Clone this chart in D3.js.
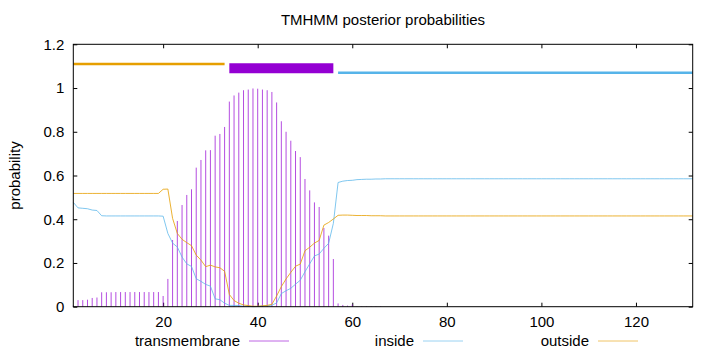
<!DOCTYPE html>
<html>

<head>
    <meta charset="UTF-8">
    <title>TMHMM posterior probabilities</title>
    <script src="https://d3js.org/d3.v7.min.js"></script>
    <style>
        body {
            margin: 0;
            background: #fff;
        }

        text {
            font-family: "Liberation Sans", Arial, sans-serif;
            font-size: 15px;
            fill: #000;
        }
    </style>
</head>

<body>
    <script>
        // residue numbers 1..132
        var residues = d3.range(1, 133);

        // posterior probability of transmembrane helix, per residue
        var tmProb = [
            0.005, 0.030, 0.030, 0.032, 0.040, 0.042, 0.066, 0.066, 0.066, 0.067,
            0.067, 0.067, 0.067, 0.067, 0.067, 0.067, 0.067, 0.067, 0.067, 0.049,
            0.127, 0.305, 0.392, 0.465, 0.511, 0.537, 0.636, 0.671, 0.715, 0.716,
            0.782, 0.790, 0.822, 0.938, 0.966, 0.979, 0.990, 0.993, 0.998, 0.997,
            0.993, 0.990, 0.982, 0.934, 0.848, 0.800, 0.759, 0.712, 0.684, 0.584,
            0.532, 0.477, 0.456, 0.360, 0.325, 0.218, 0.015, 0.008, 0.005, 0.010,
            0.002, 0.002, 0.002, 0.002, 0.002, 0.002, 0, 0, 0, 0,
            0, 0, 0, 0, 0, 0, 0, 0, 0, 0,
            0, 0, 0, 0, 0, 0, 0, 0, 0, 0,
            0, 0, 0, 0, 0, 0, 0, 0, 0, 0,
            0, 0, 0, 0, 0, 0, 0, 0, 0, 0,
            0, 0, 0, 0, 0, 0, 0, 0, 0, 0,
            0, 0, 0, 0, 0, 0, 0, 0, 0, 0,
            0, 0
        ];

        // posterior probability of "inside"
        var insideProb = [
            0.477, 0.452, 0.450, 0.448, 0.442, 0.440, 0.416, 0.415, 0.415, 0.415,
            0.415, 0.415, 0.415, 0.415, 0.415, 0.415, 0.415, 0.415, 0.415, 0.414,
            0.335, 0.291, 0.273, 0.227, 0.196, 0.184, 0.128, 0.116, 0.102, 0.094,
            0.036, 0.032, 0.016, 0.006, 0.006, 0.005, 0.002, 0.002, 0.000, 0.001,
            0.003, 0.004, 0.007, 0.017, 0.060, 0.073, 0.084, 0.103, 0.121, 0.160,
            0.196, 0.232, 0.241, 0.267, 0.290, 0.381, 0.568, 0.574, 0.577, 0.578,
            0.581, 0.582, 0.583, 0.583, 0.584, 0.584, 0.585, 0.585, 0.585, 0.585,
            0.585, 0.585, 0.585, 0.585, 0.585, 0.585, 0.585, 0.585, 0.585, 0.585,
            0.585, 0.585, 0.585, 0.585, 0.585, 0.585, 0.585, 0.585, 0.585, 0.585,
            0.585, 0.585, 0.585, 0.585, 0.585, 0.585, 0.585, 0.585, 0.585, 0.585,
            0.585, 0.585, 0.585, 0.585, 0.585, 0.585, 0.585, 0.585, 0.585, 0.585,
            0.585, 0.585, 0.585, 0.585, 0.585, 0.585, 0.585, 0.585, 0.585, 0.585,
            0.585, 0.585, 0.585, 0.585, 0.585, 0.585, 0.585, 0.585, 0.585, 0.585,
            0.585, 0.585
        ];

        // posterior probability of "outside"
        var outsideProb = [
            0.518, 0.518, 0.518, 0.518, 0.518, 0.518, 0.518, 0.518, 0.518, 0.518,
            0.518, 0.518, 0.518, 0.518, 0.518, 0.518, 0.518, 0.518, 0.518, 0.537,
            0.538, 0.404, 0.335, 0.308, 0.293, 0.279, 0.236, 0.213, 0.183, 0.190,
            0.182, 0.178, 0.162, 0.056, 0.028, 0.016, 0.008, 0.005, 0.002, 0.002,
            0.004, 0.006, 0.011, 0.049, 0.092, 0.127, 0.157, 0.185, 0.195, 0.256,
            0.272, 0.291, 0.303, 0.373, 0.385, 0.401, 0.418, 0.419, 0.419, 0.418,
            0.417, 0.417, 0.417, 0.416, 0.416, 0.416, 0.415, 0.415, 0.415, 0.415,
            0.415, 0.415, 0.415, 0.415, 0.415, 0.415, 0.415, 0.415, 0.415, 0.415,
            0.415, 0.415, 0.415, 0.415, 0.415, 0.415, 0.415, 0.415, 0.415, 0.415,
            0.415, 0.415, 0.415, 0.415, 0.415, 0.415, 0.415, 0.415, 0.415, 0.415,
            0.415, 0.415, 0.415, 0.415, 0.415, 0.415, 0.415, 0.415, 0.415, 0.415,
            0.415, 0.415, 0.415, 0.415, 0.415, 0.415, 0.415, 0.415, 0.415, 0.415,
            0.415, 0.415, 0.415, 0.415, 0.415, 0.415, 0.415, 0.415, 0.415, 0.415,
            0.415, 0.415
        ];

        // predicted topology shown above the curves
        var regionType = ["outside", "TMhelix", "inside"];
        var regionStart = [1, 34, 57];
        var regionEnd = [33, 56, 132];

        var xTicks = [20, 40, 60, 80, 100, 120];
        var yTicks = [0, 0.2, 0.4, 0.6, 0.8, 1, 1.2];
        var yTickLabels = ["0", "0.2", "0.4", "0.6", "0.8", "1", "1.2"];

        var legendNames = ["transmembrane", "inside", "outside"];

        var width = 720;
        var height = 352;
        // plot box edges (window.top is reserved, so no "top" here)
        var padL = 73.3, padR = 692.7, padT = 44.3, padB = 306.7;

        var colTM = "#9400d3", colIn = "#56b4e9", colOut = "#e69f00";
        var regionColor = { outside: colOut, TMhelix: colTM, inside: colIn };
        var regionY = { outside: 1.11, TMhelix: 1.09, inside: 1.07 };
        var regionW = { outside: 2.4, TMhelix: 10, inside: 2.6 };

        var svg = d3.select("body").append("svg")
            .attr("width", width).attr("height", height);

        var x = d3.scaleLinear().domain([1, 132]).range([padL, padR]);
        var y = d3.scaleLinear().domain([0, 1.2]).range([padB, padT]);

        // axes, ticks pointing inward, mirrored on top/right
        svg.append("g").attr("transform", "translate(0," + padB + ")")
            .call(d3.axisBottom(x).tickValues(xTicks).tickSize(-4).tickPadding(10));
        svg.append("g").attr("transform", "translate(0," + padT + ")")
            .call(d3.axisTop(x).tickValues(xTicks).tickSize(-4).tickFormat(""));
        svg.append("g").attr("transform", "translate(" + padL + ",0)")
            .call(d3.axisLeft(y).tickValues(yTicks).tickSize(-4).tickPadding(9)
                .tickFormat(function (d, i) { return yTickLabels[i]; }));
        svg.append("g").attr("transform", "translate(" + padR + ",0)")
            .call(d3.axisRight(y).tickValues(yTicks).tickSize(-4).tickFormat(""));

        svg.selectAll(".domain").remove();
        svg.selectAll(".tick line").attr("stroke", "#000");
        svg.selectAll(".tick text")
            .style("font-family", "'Liberation Sans', Arial, sans-serif")
            .style("font-size", "15px")
            .attr("fill", "#000");

        // impulses for transmembrane probability
        svg.append("g").selectAll("line")
            .data(residues)
            .join("line")
            .attr("x1", function (d) { return x(d); })
            .attr("x2", function (d) { return x(d); })
            .attr("y1", y(0))
            .attr("y2", function (d, i) { return y(tmProb[i]); })
            .attr("stroke", colTM)
            .attr("stroke-opacity", 0.7)
            .attr("stroke-width", 1);

        var line = d3.line()
            .x(function (d) { return x(d[0]); })
            .y(function (d) { return y(d[1]); });

        svg.append("path")
            .datum(residues.map(function (r, i) { return [r, insideProb[i]]; }))
            .attr("d", line)
            .attr("fill", "none")
            .attr("stroke", colIn)
            .attr("stroke-opacity", 0.75)
            .attr("stroke-width", 1);

        svg.append("path")
            .datum(residues.map(function (r, i) { return [r, outsideProb[i]]; }))
            .attr("d", line)
            .attr("fill", "none")
            .attr("stroke", colOut)
            .attr("stroke-opacity", 0.8)
            .attr("stroke-width", 1);

        // topology bars
        svg.append("g").selectAll("line")
            .data(regionType)
            .join("line")
            .attr("x1", function (d, i) { return x(regionStart[i]); })
            .attr("x2", function (d, i) { return x(regionEnd[i]); })
            .attr("y1", function (d) { return y(regionY[d]); })
            .attr("y2", function (d) { return y(regionY[d]); })
            .attr("stroke", function (d) { return regionColor[d]; })
            .attr("stroke-width", function (d) { return regionW[d]; });

        // border
        svg.append("rect")
            .attr("x", padL).attr("y", padT)
            .attr("width", padR - padL).attr("height", padB - padT)
            .attr("fill", "none").attr("stroke", "#000").attr("stroke-width", 1);

        // title and axis label
        svg.append("text")
            .attr("x", (padL + padR) / 2).attr("y", 25)
            .attr("text-anchor", "middle")
            .text("TMHMM posterior probabilities");

        svg.append("text")
            .attr("transform", "translate(20," + (padT + padB) / 2 + ") rotate(-90)")
            .attr("text-anchor", "middle")
            .text("probability");

        // legend
        var legendTextEnd = [240, 414, 589];
        var legendColors = [colTM, colIn, colOut];
        var lg = svg.append("g");
        legendNames.forEach(function (name, i) {
            lg.append("text")
                .attr("x", legendTextEnd[i]).attr("y", 346)
                .attr("text-anchor", "end")
                .text(name);
            lg.append("line")
                .attr("x1", legendTextEnd[i] + 9).attr("x2", legendTextEnd[i] + 49)
                .attr("y1", 341).attr("y2", 341)
                .attr("stroke", legendColors[i])
                .attr("stroke-opacity", 0.6)
                .attr("stroke-width", 1);
        });
    </script>
</body>

</html>
